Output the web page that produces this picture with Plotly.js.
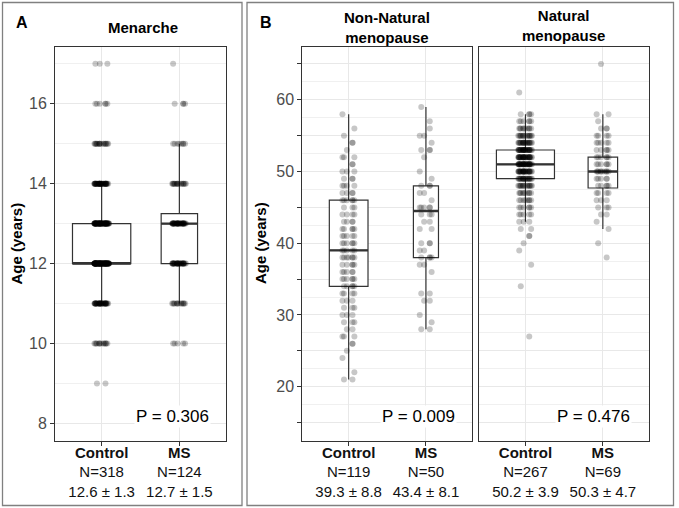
<!DOCTYPE html>
<html><head><meta charset="utf-8">
<script src="https://cdn.plot.ly/plotly-3.0.1.min.js"></script>
<style>html,body{margin:0;padding:0;background:#fff}#chart{width:679px;height:508px}</style>
</head><body><div id="chart"></div>
<script>
const groups = ['Control', 'MS'];

// ---- Panel A: Menarche ----
const menarcheN = [318, 124];
const menarcheMeanSd = ['12.6 ± 1.3', '12.7 ± 1.5'];
const menarcheQ1 = [12, 12];
const menarcheMedian = [12, 13];
const menarcheQ3 = [13, 13.25];
const menarcheLow = [11, 11];
const menarcheHigh = [14, 15];
const menarcheP = 'P = 0.306';
const menarcheCtrlAges = [9, 10, 11, 12, 13, 14, 15, 16, 17];
const menarcheCtrlCounts = [2, 14, 40, 110, 80, 45, 18, 6, 3];
const menarcheMSAges = [10, 11, 12, 13, 14, 15, 16, 17];
const menarcheMSCounts = [5, 14, 34, 40, 18, 8, 4, 1];

// ---- Panel B: Non-Natural menopause ----
const nonNatN = [119, 50];
const nonNatMeanSd = ['39.3 ± 8.8', '43.4 ± 8.1'];
const nonNatQ1 = [34, 38];
const nonNatMedian = [39, 44.5];
const nonNatQ3 = [46, 48];
const nonNatLow = [21, 28];
const nonNatHigh = [58, 59];
const nonNatP = 'P = 0.009';
const nonNatCtrlAges = [21,22,24,25,26,27,28,29,30,31,32,33,34,35,36,37,38,39,40,41,42,43,44,45,46,47,48,49,50,51,52,53,54,55,56,58];
const nonNatCtrlCounts = [2,1,1,1,2,3,2,3,3,3,3,4,5,6,5,5,7,5,6,5,5,4,4,3,6,4,4,3,3,2,3,1,2,1,1,1];
const nonNatMSAges = [28,29,30,32,33,36,37,38,39,40,42,43,44,45,46,47,48,49,50,52,53,54,55,56,57,59];
const nonNatMSCounts = [2,1,1,2,2,1,2,4,2,3,2,2,3,5,1,2,3,1,1,1,3,1,2,1,1,1];

// ---- Panel B: Natural menopause ----
const natN = [267, 69];
const natMeanSd = ['50.2 ± 3.9', '50.3 ± 4.7'];
const natQ1 = [49, 47.7];
const natMedian = [51, 50];
const natQ3 = [53, 52];
const natLow = [43, 42];
const natHigh = [58, 58];
const natP = 'P = 0.476';
const natCtrlAges = [27,34,37,39,40,41,42,43,44,45,46,47,48,49,50,51,52,53,54,55,56,57,58,61];
const natCtrlCounts = [1,1,1,1,1,2,2,3,5,6,8,10,16,22,31,34,33,31,22,16,10,6,4,1];
const natMSAges = [38,40,42,43,44,45,46,47,48,49,50,51,52,53,54,55,56,57,58,65];
const natMSCounts = [1,1,1,1,2,3,3,4,5,5,10,6,6,5,5,4,3,1,2,1];

const FONT = 'Liberation Sans, Arial, Helvetica, sans-serif';

const traces = [];
function pointTrace(g, ys, xa, ya) {
  return {
    type: 'box', x0: g, y: ys,
    boxpoints: 'all', jitter: 1, pointpos: 0, width: 0.19,
    fillcolor: 'rgba(0,0,0,0)', line: {color: 'rgba(0,0,0,0)', width: 0}, whiskerwidth: 0,
    marker: {color: 'rgba(0,0,0,0.22)', size: 6, line: {width: 0}},
    xaxis: xa, yaxis: ya, showlegend: false, hoverinfo: 'skip'
  };
}
function addPanel(xa, ya, n, nMax, q1, med, q3, lo, hi, pointSets) {
  groups.forEach((g, i) => {
    const w = 0.75 * Math.sqrt(n[i] / nMax);
    traces.push({
      type: 'box', orientation: 'v', x: [g], q1: [q1[i]], median: [med[i]], q3: [q3[i]],
      lowerfence: [lo[i]], upperfence: [hi[i]], width: w, boxpoints: false,
      fillcolor: '#ffffff', line: {color: '#333333', width: 1.2}, whiskerwidth: 0,
      xaxis: xa, yaxis: ya, showlegend: false, hoverinfo: 'skip'
    });
    traces.push({
      type: 'box', orientation: 'v', x: [g], q1: [med[i]], median: [med[i]], q3: [med[i]],
      lowerfence: [med[i]], upperfence: [med[i]], width: w, boxpoints: false,
      fillcolor: 'rgba(0,0,0,0)', line: {color: '#333333', width: 2.4}, whiskerwidth: 0,
      xaxis: xa, yaxis: ya, showlegend: false, hoverinfo: 'skip'
    });
  });
  // Jittered observations. Plotly scales jitter by local density, so the points are
  // split into small clouds (dense age levels alone, sparse ones in chunks of <= 6)
  // which gives every point the full, uniform jitter width like geom_jitter.
  groups.forEach((g, i) => {
    const ages = pointSets[i][0], counts = pointSets[i][1];
    let sparse = [];
    ages.forEach((a, k) => {
      if (counts[k] >= 7) {
        traces.push(pointTrace(g, new Array(counts[k]).fill(a), xa, ya));
      } else {
        for (let c = 0; c < counts[k]; c++) sparse.push(a);
      }
    });
    for (let s = 0; s < sparse.length; s += 6) {
      traces.push(pointTrace(g, sparse.slice(s, s + 6), xa, ya));
    }
  });
}

addPanel('x', 'y', menarcheN, Math.max(...menarcheN), menarcheQ1, menarcheMedian, menarcheQ3, menarcheLow, menarcheHigh,
  [[menarcheCtrlAges, menarcheCtrlCounts], [menarcheMSAges, menarcheMSCounts]]);
const bMax = Math.max(...nonNatN, ...natN);
addPanel('x2', 'y2', nonNatN, bMax, nonNatQ1, nonNatMedian, nonNatQ3, nonNatLow, nonNatHigh,
  [[nonNatCtrlAges, nonNatCtrlCounts], [nonNatMSAges, nonNatMSCounts]]);
addPanel('x3', 'y3', natN, bMax, natQ1, natMedian, natQ3, natLow, natHigh,
  [[natCtrlAges, natCtrlCounts], [natMSAges, natMSCounts]]);

function tickText(n, ms) {
  return groups.map((g, i) => '<b>' + g + '</b><br>N=' + n[i] + '<br>' + ms[i]);
}

const W = 679, H = 508;
const px = v => v / W, py = v => 1 - v / H;
const yDom = [py(440.5), py(46.7)];

const axBase = {
  showline: true, mirror: true, linecolor: '#333333', linewidth: 1,
  showgrid: true, gridcolor: '#e8e8e8', gridwidth: 1, zeroline: false,
  automargin: false, fixedrange: true
};
function xAxis(dom, anchor, n, ms) {
  return Object.assign({}, axBase, {
    domain: dom, anchor: anchor, type: 'category', categoryorder: 'array', categoryarray: groups,
    range: [-0.6, 1.6], tickmode: 'array', tickvals: groups, ticktext: tickText(n, ms),
    ticks: 'outside', ticklen: 4, tickcolor: '#333333', ticklabelstandoff: -6,
    tickfont: {family: FONT, size: 15, color: '#111111'}
  });
}
const bTickVals = [15, 20, 25, 30, 35, 40, 45, 50, 55, 60, 65];
const bTickText = ['', '20', '', '30', '', '40', '', '50', '', '60', ''];
const layout = {
  width: W, height: H, margin: {l: 0, r: 0, t: 0, b: 0},
  paper_bgcolor: '#ffffff', plot_bgcolor: '#ffffff', showlegend: false,
  boxmode: 'overlay',
  font: {family: FONT},
  xaxis: xAxis([px(55), px(226)], 'y', menarcheN, menarcheMeanSd),
  xaxis2: xAxis([px(302.3), px(472.3)], 'y2', nonNatN, nonNatMeanSd),
  xaxis3: xAxis([px(479), px(649.3)], 'y3', natN, natMeanSd),
  yaxis: Object.assign({}, axBase, {
    domain: yDom, anchor: 'x', range: [7.575, 17.425], tickmode: 'array', tickvals: [8, 10, 12, 14, 16],
    ticks: 'outside', ticklen: 4, tickcolor: '#333333',
    tickfont: {family: FONT, size: 16, color: '#4d4d4d'},
    minor: {tickmode: 'linear', tick0: 1, dtick: 2, showgrid: true, gridcolor: '#f0f0f0', gridwidth: 1, ticks: ''}
  }),
  yaxis2: Object.assign({}, axBase, {
    domain: yDom, anchor: 'x2', range: [12.5, 67.4], tickmode: 'array', tickvals: bTickVals, ticktext: bTickText,
    ticks: 'outside', ticklen: 4, tickcolor: '#333333',
    tickfont: {family: FONT, size: 16, color: '#4d4d4d'},
    minor: {tickmode: 'linear', tick0: 2.5, dtick: 5, showgrid: true, gridcolor: '#f0f0f0', gridwidth: 1, ticks: ''}
  }),
  yaxis3: Object.assign({}, axBase, {
    domain: yDom, anchor: 'x3', range: [12.5, 67.4], tickmode: 'array', tickvals: bTickVals, ticktext: bTickText,
    ticks: '', showticklabels: false,
    minor: {tickmode: 'linear', tick0: 2.5, dtick: 5, showgrid: true, gridcolor: '#f0f0f0', gridwidth: 1, ticks: ''}
  }),
  shapes: [
    {type: 'rect', xref: 'paper', yref: 'paper', x0: px(2.5), x1: px(242), y0: py(505.5), y1: py(2.5),
      line: {color: '#808080', width: 1.3}, fillcolor: 'rgba(0,0,0,0)', layer: 'above'},
    {type: 'rect', xref: 'paper', yref: 'paper', x0: px(247), x1: px(673.5), y0: py(505.5), y1: py(2.5),
      line: {color: '#808080', width: 1.3}, fillcolor: 'rgba(0,0,0,0)', layer: 'above'}
  ],
  annotations: [
    {text: '<b>A</b>', x: px(22), y: py(22), xref: 'paper', yref: 'paper', showarrow: false,
      font: {size: 16, color: '#000000'}, xanchor: 'center', yanchor: 'middle'},
    {text: '<b>B</b>', x: px(265.7), y: py(22), xref: 'paper', yref: 'paper', showarrow: false,
      font: {size: 16, color: '#000000'}, xanchor: 'center', yanchor: 'middle'},
    {text: '<b>Menarche</b>', x: px(143), y: py(27), xref: 'paper', yref: 'paper', showarrow: false,
      font: {size: 15, color: '#000000'}, xanchor: 'center', yanchor: 'middle'},
    {text: '<b>Non-Natural<br>menopause</b>', x: px(387), y: py(27.5), xref: 'paper', yref: 'paper', showarrow: false,
      font: {size: 15, color: '#000000'}, xanchor: 'center', yanchor: 'middle'},
    {text: '<b>Natural<br>menopause</b>', x: px(563), y: py(25.5), xref: 'paper', yref: 'paper', showarrow: false,
      font: {size: 15, color: '#000000'}, xanchor: 'center', yanchor: 'middle'},
    {text: '<b>Age (years)</b>', x: px(16), y: py(243.5), xref: 'paper', yref: 'paper', showarrow: false, textangle: -90,
      font: {size: 15, color: '#000000'}, xanchor: 'center', yanchor: 'middle'},
    {text: '<b>Age (years)</b>', x: px(260.5), y: py(243.5), xref: 'paper', yref: 'paper', showarrow: false, textangle: -90,
      font: {size: 15, color: '#000000'}, xanchor: 'center', yanchor: 'middle'},
    {text: menarcheP, x: px(172), y: py(416.5), xref: 'paper', yref: 'paper', showarrow: false, bgcolor: '#ffffff',
      font: {size: 17, color: '#000000'}, xanchor: 'center', yanchor: 'middle'},
    {text: nonNatP, x: px(418.7), y: py(416.5), xref: 'paper', yref: 'paper', showarrow: false, bgcolor: '#ffffff',
      font: {size: 17, color: '#000000'}, xanchor: 'center', yanchor: 'middle'},
    {text: natP, x: px(593.5), y: py(416.5), xref: 'paper', yref: 'paper', showarrow: false, bgcolor: '#ffffff',
      font: {size: 17, color: '#000000'}, xanchor: 'center', yanchor: 'middle'}
  ]
};

Plotly.newPlot('chart', traces, layout, {staticPlot: true, displayModeBar: false});
</script>
</body></html>
